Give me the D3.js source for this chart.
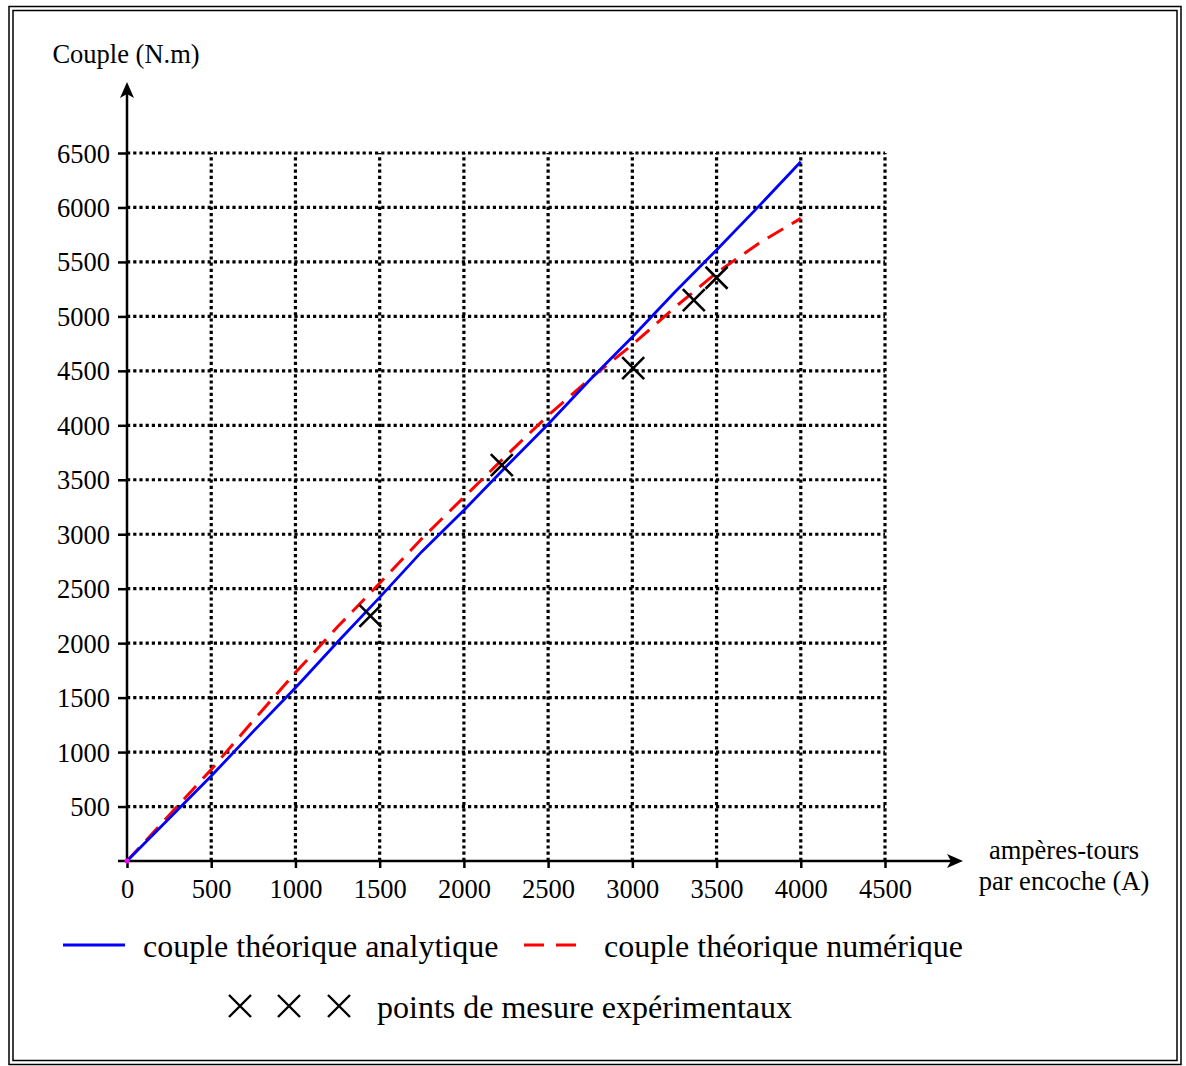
<!DOCTYPE html>
<html><head><meta charset="utf-8">
<script src="https://cdn.jsdelivr.net/npm/d3@7"></script>
<style>
html,body{margin:0;padding:0;background:#fff;}
text{font-family:"Liberation Serif","Times New Roman",serif;fill:#000;}
</style></head>
<body>
<script>
// ---- data ----
const xTicks = [0,500,1000,1500,2000,2500,3000,3500,4000,4500];
const yTicks = [500,1000,1500,2000,2500,3000,3500,4000,4500,5000,5500,6000,6500];
const analytiqueX = [0,250,500,750,1000,1250,1500,1750,2000,2250,2500,2750,3000,3250,3500,3750,4000];
const analytiqueY = [0,390,780,1190,1590,2010,2420,2840,3220,3620,4010,4420,4810,5220,5610,6010,6420];
const numeriqueX = [0,250,500,750,1000,1250,1500,1750,2000,2250,2500,2750,3000,3250,3500,3750,4000];
const numeriqueY = [0,420,840,1290,1730,2150,2550,2960,3340,3720,4090,4430,4740,5080,5400,5670,5900];
const mesureX = [1445,2225,3005,3365,3500];
const mesureY = [2250,3635,4525,5150,5355];
const yTitle = "Couple (N.m)";
const xTitle = ["ampères-tours","par encoche (A)"];
const legendLabels = ["couple théorique analytique","couple théorique numérique","points de mesure expérimentaux"];

const W=1186,H=1066;
const svg=d3.select("body").append("svg").attr("width",W).attr("height",H);

// frame (double border)
svg.append("rect").attr("x",9).attr("y",6.5).attr("width",1172).attr("height",1058).attr("fill","none").attr("stroke","#000").attr("stroke-width",1.5);
svg.append("rect").attr("x",13).attr("y",10.5).attr("width",1164).attr("height",1050).attr("fill","none").attr("stroke","#000").attr("stroke-width",1.5);

const x=d3.scaleLinear().domain([0,4500]).range([127,885]);
const y=d3.scaleLinear().domain([0,6500]).range([861,153]);

// grid
const g=svg.append("g");
g.selectAll(".hg").data(yTicks).join("line")
  .attr("x1",x(0)).attr("x2",x(4500)).attr("y1",d=>y(d)).attr("y2",d=>y(d))
  .attr("stroke","#000").attr("stroke-width",3.2).attr("stroke-dasharray","3.2,3");
g.selectAll(".vg").data(xTicks.filter(d=>d>0)).join("line")
  .attr("x1",d=>x(d)).attr("x2",d=>x(d)).attr("y1",y(0)).attr("y2",y(6500))
  .attr("stroke","#000").attr("stroke-width",3.2).attr("stroke-dasharray","3.2,3");

// axes lines with arrows
svg.append("line").attr("x1",x(0)).attr("x2",x(0)).attr("y1",y(0)).attr("y2",92).attr("stroke","#000").attr("stroke-width",2.5);
svg.append("path").attr("d",`M${x(0)},82 L${x(0)-7},98 L${x(0)},94 L${x(0)+7},98 Z`).attr("fill","#000");
svg.append("line").attr("x1",118).attr("x2",953).attr("y1",y(0)).attr("y2",y(0)).attr("stroke","#000").attr("stroke-width",2.5);
svg.append("path").attr("d",`M963,${y(0)} L947,${y(0)-7} L951,${y(0)} L947,${y(0)+7} Z`).attr("fill","#000");

// tick marks + labels via d3 axes
const yAxis=svg.append("g").attr("transform",`translate(${x(0)},0)`)
  .call(d3.axisLeft(y).tickValues(yTicks).tickSize(9).tickPadding(8).tickFormat(d3.format("d")));
yAxis.select(".domain").remove();
yAxis.selectAll(".tick line").attr("stroke","#000").attr("stroke-width",2.5);
yAxis.selectAll(".tick text").attr("font-size","26.5px").attr("font-family","Liberation Serif").attr("dy","0.34em");

const xAxis=svg.append("g").attr("transform",`translate(0,${y(0)})`)
  .call(d3.axisBottom(x).tickValues(xTicks).tickSize(7).tickPadding(11).tickFormat(d3.format("d")));
xAxis.select(".domain").remove();
xAxis.selectAll(".tick line").attr("stroke","#000").attr("stroke-width",2.5);
xAxis.selectAll(".tick text").attr("font-size","26.5px").attr("font-family","Liberation Serif");

// titles
svg.append("text").attr("x",126).attr("y",63).attr("text-anchor","middle").attr("font-size","26.5px").text(yTitle);
svg.append("text").attr("x",1064).attr("y",859).attr("text-anchor","middle").attr("font-size","26.5px").text(xTitle[0]);
svg.append("text").attr("x",1064).attr("y",890).attr("text-anchor","middle").attr("font-size","26.5px").text(xTitle[1]);

// lines
const line=d3.line().x(d=>x(d[0])).y(d=>y(d[1]));
svg.append("path").datum(numeriqueX.map((v,i)=>[v,numeriqueY[i]])).attr("d",line)
  .attr("fill","none").attr("stroke","#ff0000").attr("stroke-width",3).attr("stroke-dasharray","18,10");
svg.append("path").datum(analytiqueX.map((v,i)=>[v,analytiqueY[i]])).attr("d",line)
  .attr("fill","none").attr("stroke","#0000ff").attr("stroke-width",2.8);
svg.append("circle").attr("cx",x(0)).attr("cy",y(0)).attr("r",2.5).attr("fill","#ff00ff");

// measurement crosses
const cross=(sel,cx,cy,r,w)=>{
  sel.append("path").attr("d",`M${cx-r},${cy-r}L${cx+r},${cy+r}M${cx-r},${cy+r}L${cx+r},${cy-r}`)
    .attr("stroke","#000").attr("stroke-width",w).attr("fill","none");
};
const mg=svg.append("g");
mesureX.forEach((v,i)=>cross(mg,x(v),y(mesureY[i]),11,2.6));

// legend
svg.append("line").attr("x1",63).attr("x2",125).attr("y1",945).attr("y2",945).attr("stroke","#0000ff").attr("stroke-width",3);
svg.append("text").attr("x",143).attr("y",957).attr("font-size","32px").text(legendLabels[0]);
svg.append("line").attr("x1",524).attr("x2",584).attr("y1",945).attr("y2",945).attr("stroke","#ff0000").attr("stroke-width",3).attr("stroke-dasharray","20,12");
svg.append("text").attr("x",604).attr("y",957).attr("font-size","32px").text(legendLabels[1]);
[240,289,339].forEach(cx=>cross(svg,cx,1006,11,2.4));
svg.append("text").attr("x",377).attr("y",1018).attr("font-size","32px").text(legendLabels[2]);
</script>
</body></html>
